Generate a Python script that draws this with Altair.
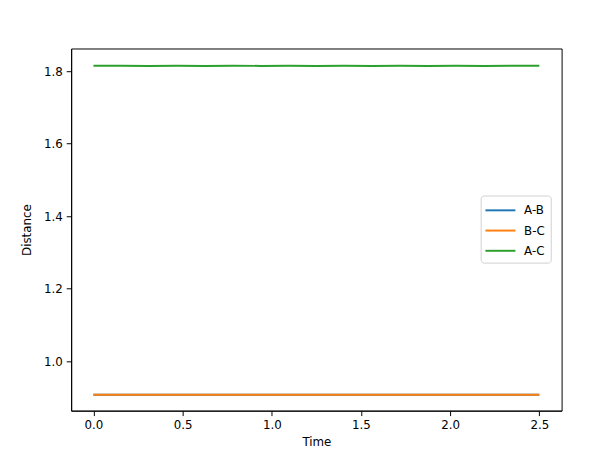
import altair as alt
import pandas as pd

# time samples (half-period of the small oscillation)
time = [0.0, 0.156, 0.312, 0.469, 0.625, 0.781, 0.938, 1.094, 1.25,
        1.406, 1.562, 1.719, 1.875, 2.031, 2.188, 2.344, 2.5]
ab = [0.9074, 0.9076, 0.9073, 0.9076, 0.9073, 0.9076, 0.9073, 0.9076, 0.9073,
      0.9076, 0.9073, 0.9076, 0.9073, 0.9076, 0.9073, 0.9076, 0.9074]
bc = [0.9074, 0.9076, 0.9073, 0.9076, 0.9073, 0.9076, 0.9073, 0.9076, 0.9073,
      0.9076, 0.9073, 0.9076, 0.9073, 0.9076, 0.9073, 0.9076, 0.9074]
ac = [1.8148, 1.8152, 1.8146, 1.8152, 1.8146, 1.8152, 1.8146, 1.8152, 1.8146,
      1.8152, 1.8146, 1.8152, 1.8146, 1.8152, 1.8146, 1.8152, 1.8148]

series = ["A-B", "B-C", "A-C"]
colors = ["#1f77b4", "#ff7f0e", "#2ca02c"]

rows = []
for name, vals in zip(series, [ab, bc, ac]):
    for t, v in zip(time, vals):
        rows.append({"Time": t, "Distance": v, "series": name})
df = pd.DataFrame(rows)

font = "DejaVu Sans"

chart = alt.Chart(df).mark_line(strokeWidth=2, clip=True).encode(
    x=alt.X("Time:Q", title="Time",
            scale=alt.Scale(domain=[-0.125, 2.625], nice=False, zero=False),
            axis=alt.Axis(values=[0.0, 0.5, 1.0, 1.5, 2.0, 2.5], format=".1f")),
    y=alt.Y("Distance:Q", title="Distance",
            scale=alt.Scale(domain=[0.8636, 1.8626], nice=False, zero=False),
            axis=alt.Axis(values=[1.0, 1.2, 1.4, 1.6, 1.8], format=".1f")),
    color=alt.Color("series:N", scale=alt.Scale(domain=series, range=colors),
                    legend=alt.Legend(title=None, orient="none", legendX=415, legendY=149,
                                      symbolType="M-1.9,0L1.9,0", symbolSize=256,
                                      symbolStrokeWidth=2, symbolOffset=5,
                                      labelFontSize=12, labelFont=font, labelColor="black",
                                      labelExpr="datum.label + '\u00a0'",
                                      rowPadding=5.5, padding=6, strokeColor="#d0d0d0",
                                      fillColor="white", cornerRadius=3, labelOffset=15)),
).properties(
    width=497, height=367,
    padding={"left": 64, "top": 38, "right": 46, "bottom": 50},
    autosize=alt.AutoSizeParams(type="none"),
).configure_view(
    stroke="black", strokeWidth=1
).configure_axis(
    grid=False, domainColor="black", tickColor="black", tickSize=5,
    labelFont=font, labelFontSize=12, labelColor="black", labelPadding=4,
    titleFont=font, titleFontSize=12, titleColor="black", titleFontWeight="normal",
).configure_axisX(titlePadding=6).configure_axisY(titlePadding=10)

chart.save("out.html", embed_options={"renderer": "svg", "actions": False})
